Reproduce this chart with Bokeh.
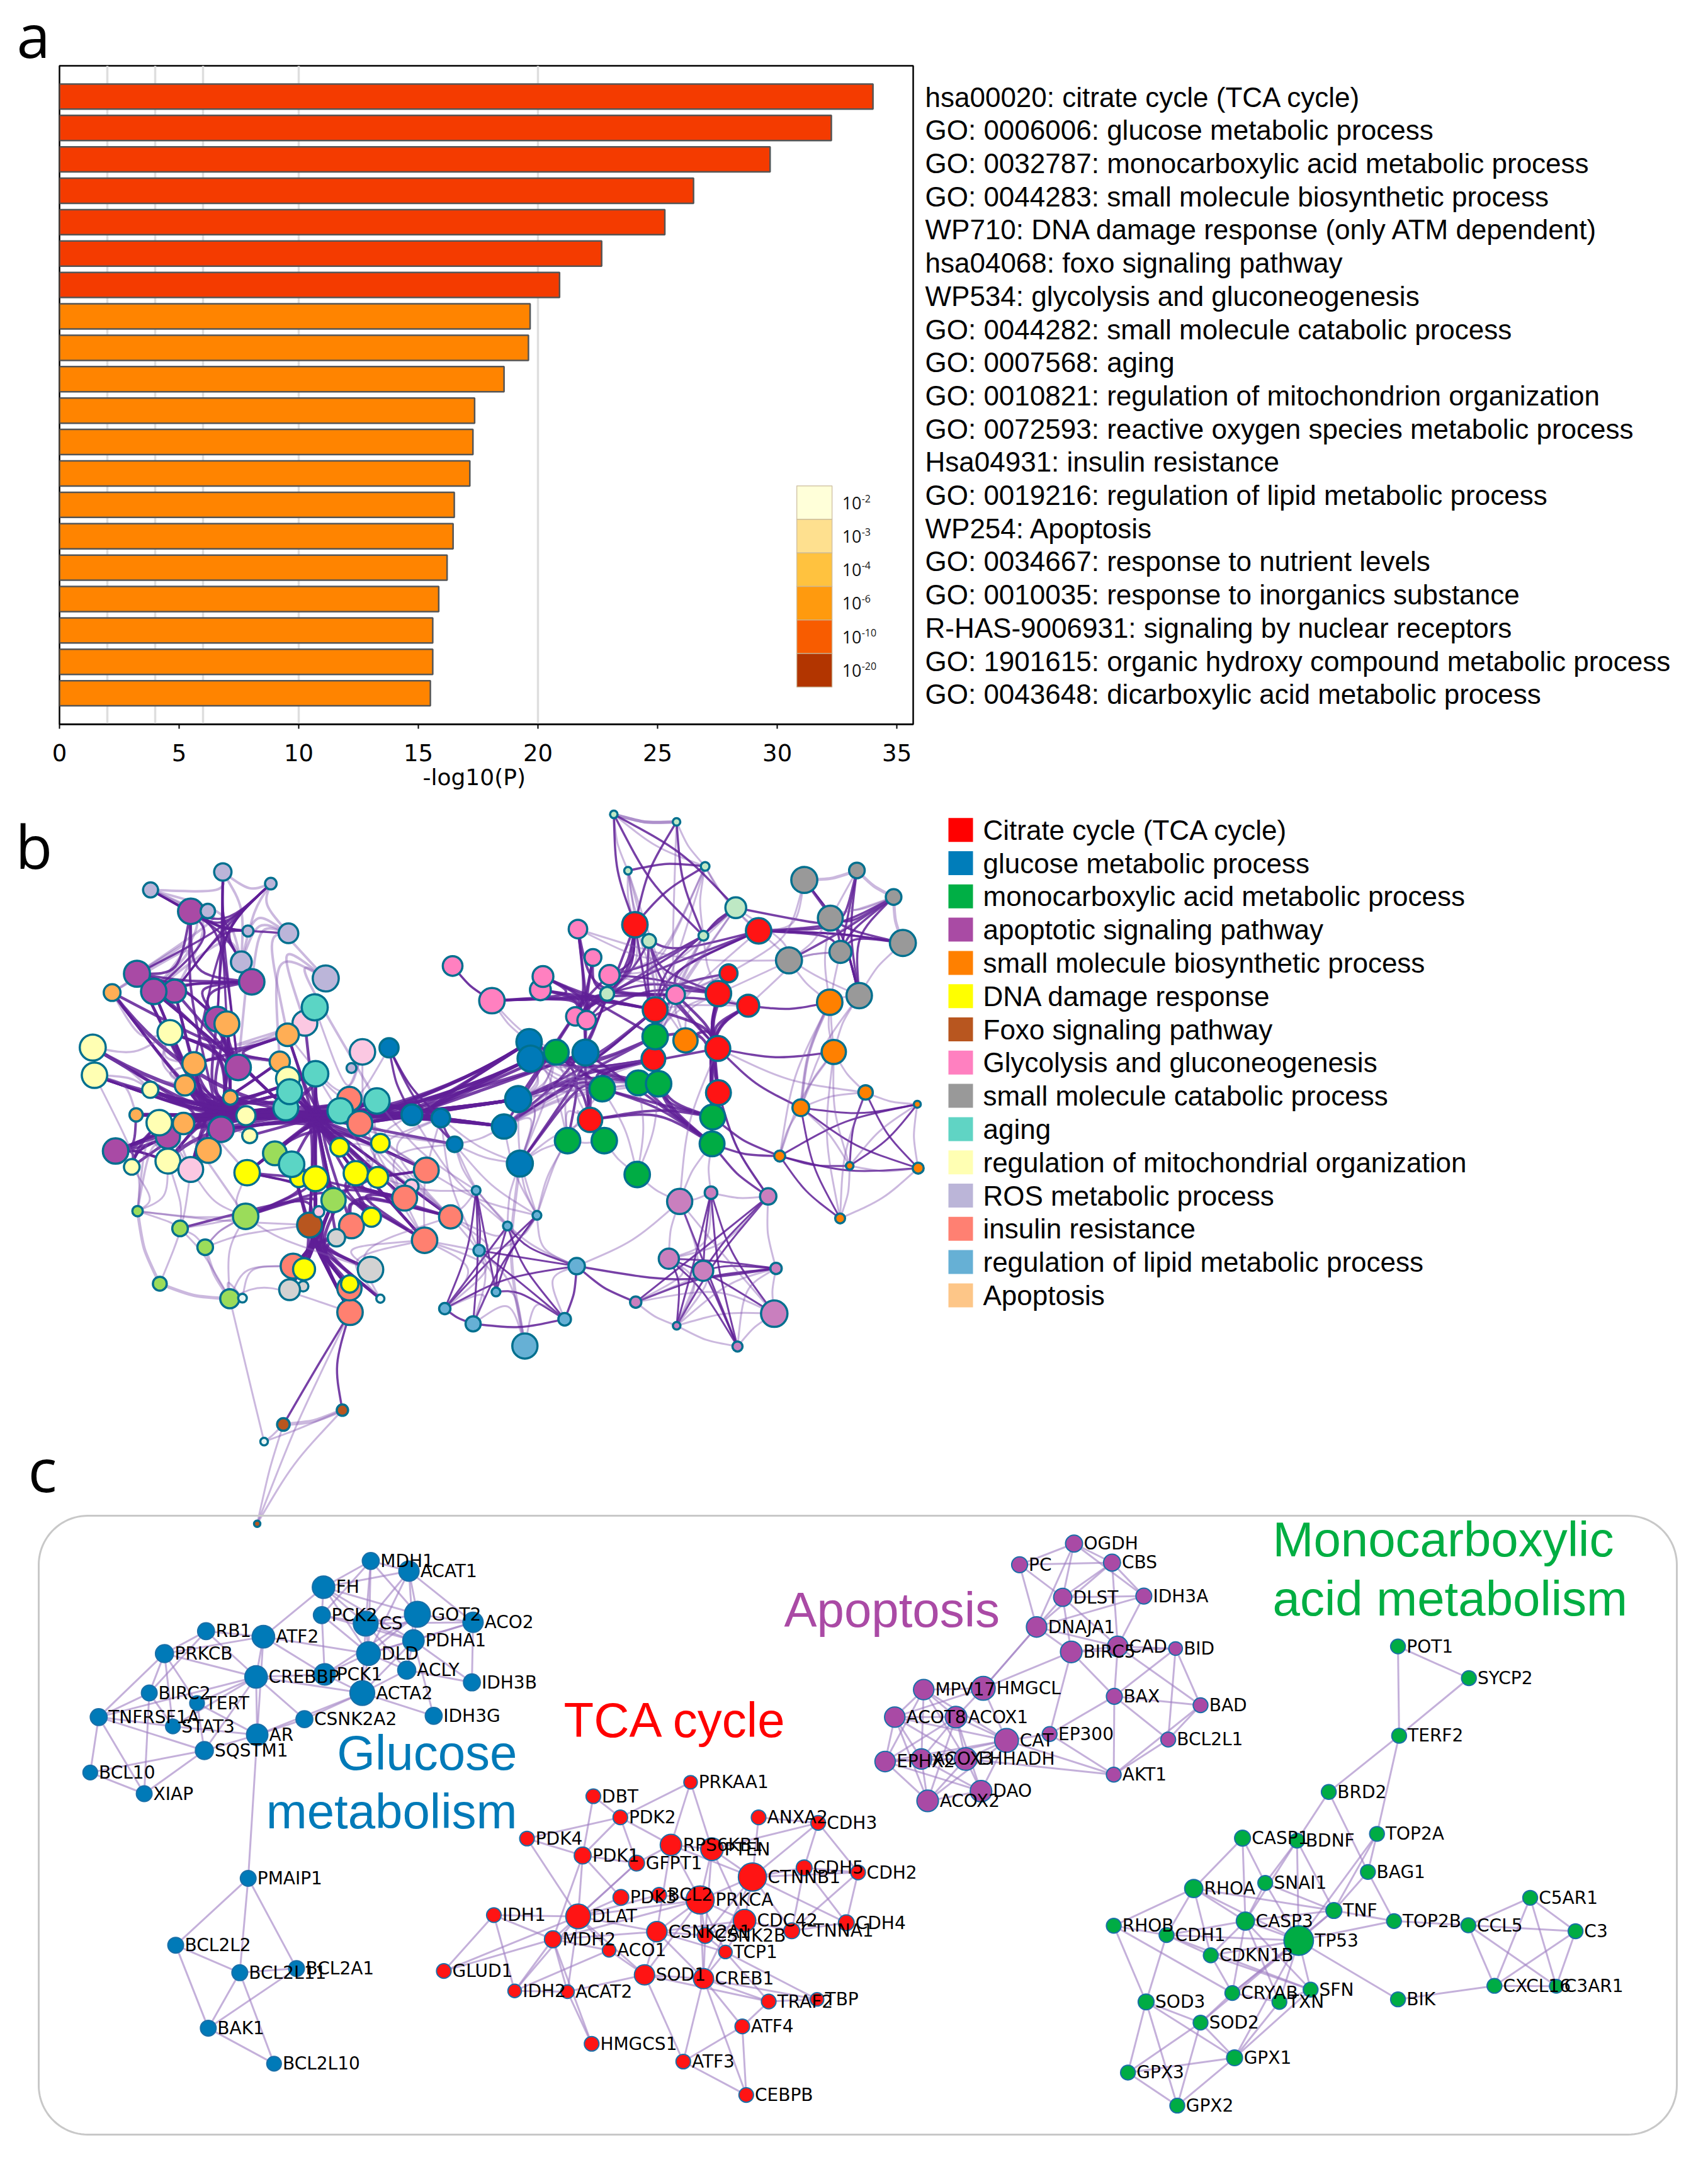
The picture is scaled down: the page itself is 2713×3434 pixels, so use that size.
from bokeh.plotting import figure
from bokeh.layouts import column, row
from bokeh.embed import file_html
from bokeh.resources import INLINE
from bokeh.core.properties import value
from bokeh.models import Range1d, FixedTicker, Title
import numpy as np

# ---------- panel a data ----------
bar_values = [34.0, 32.26, 29.7, 26.5, 25.3, 22.66, 20.9, 19.67, 19.6, 18.58,
              17.35, 17.28, 17.15, 16.5, 16.45, 16.2, 15.85, 15.6, 15.6, 15.5]
bar_colors = ["#F43B00"] * 7 + ["#FF8400"] * 13
x_ticks = [0, 5, 10, 15, 20, 25, 30, 35]
grid_ticks = [2, 4, 6, 10, 20]
term_labels = [
    "hsa00020: citrate cycle (TCA cycle)",
    "GO: 0006006: glucose metabolic process",
    "GO: 0032787: monocarboxylic acid metabolic process",
    "GO: 0044283: small molecule biosynthetic process",
    "WP710: DNA damage response (only ATM dependent)",
    "hsa04068: foxo signaling pathway",
    "WP534: glycolysis and gluconeogenesis",
    "GO: 0044282: small molecule catabolic process",
    "GO: 0007568: aging",
    "GO: 0010821: regulation of mitochondrion organization",
    "GO: 0072593: reactive oxygen species metabolic process",
    "Hsa04931: insulin resistance",
    "GO: 0019216: regulation of lipid metabolic process",
    "WP254: Apoptosis",
    "GO: 0034667: response to nutrient levels",
    "GO: 0010035: response to inorganics substance",
    "R-HAS-9006931: signaling by nuclear receptors",
    "GO: 1901615: organic hydroxy compound metabolic process",
    "GO: 0043648: dicarboxylic acid metabolic process",
]
scale_exps = ["-2", "-3", "-4", "-6", "-10", "-20"]
scale_colors = ["#FFFFD9", "#FEE08F", "#FFC23F", "#FF9A0E", "#F85C00", "#B23500"]

# ---------- panel b legend ----------
legend_names = ["Citrate cycle (TCA cycle)", "glucose metabolic process",
                "monocarboxylic acid metabolic process", "apoptotic signaling pathway",
                "small molecule biosynthetic process", "DNA damage response",
                "Foxo signaling pathway", "Glycolysis and gluconeogenesis",
                "small molecule catabolic process", "aging",
                "regulation of mitochondrial organization", "ROS metabolic process",
                "insulin resistance", "regulation of lipid metabolic process", "Apoptosis"]
legend_colors = ["#FF0000", "#007DBA", "#00AF45", "#A94BA4", "#FF8000", "#FFFF00", "#B8561F",
                 "#FF80C0", "#999999", "#60D4C4", "#FFFFB3", "#BBB5D8", "#FF8072", "#66B0D5", "#FDC688"]
node_palette = {"r": "#FF1414", "b": "#007AB8", "g": "#00AC44", "p": "#A94AA5", "o": "#FF8000",
                "y": "#FFFF00", "f": "#B8561F", "k": "#FF80C0", "a": "#999999", "t": "#5BD5C5",
                "l": "#FFFFB3", "v": "#BBB5D9", "s": "#FF8070", "u": "#66B0D5", "n": "#FFAE55",
                "m": "#9BDC5A", "q": "#FBC8E2", "h": "#D2D2D2", "w": "#BEE8C4", "x": "#C97FBE", "e": "#E8F4F4"}

# network nodes, left half: key, x, y, r as read in the left crop (scale 2.178, origin 100,1380)
nodes_left = [
 ("v1",302,72,26),("v2",552,10,30),("v3",718,50,20),("p1",441,146,44),("v4",500,145,25),("v5",639,214,19),
 ("v6",779,222,34),("v7",616,321,36),("v8",908,378,45),("p2",255,362,45),("p4",385,422,40),("p3",313,423,44),
 ("p5",652,390,44),("n1",169,427,29),("p6",533,519,43),("n2",566,535,43),("q1",836,533,43),("t1",870,478,45),
 ("n3",776,573,39),("l1",369,565,43),("l2",102,617,45),("l3",108,713,44),("q2",1035,632,44),("b1",1127,618,33),
 ("v9",997,688,17),("n4",452,673,40),("n5",421,748,35),("p7",605,686,44),("n6",749,666,35),("t2",873,708,44),
 ("l4",777,725,41),("t4",770,826,43),("t3",783,770,43),("l5",301,763,28),("n7",578,790,25),("s1",990,795,42),
 ("t5",958,836,44),("t6",1085,802,44),("s2",1026,880,43),("b2",1206,850,36),("b3",1306,861,32),("n8",252,850,23),
 ("p8",362,925,42),("l6",332,877,44),("n9",416,880,37),("p9",546,900,44),("l7",632,853,33),("l8",645,922,26),
 ("y1",956,962,32),("y2",1097,948,32),("b4",1354,952,27),("p10",181,975,44),("n10",502,973,43),("l9",362,1010,43),
 ("l10",237,1030,27),("q3",441,1039,43),("m1",732,983,41),("y4",815,1070,30),("t7",790,1021,44),("y3",636,1050,44),
 ("y5",873,1071,43),("y6",1012,1052,42),("y7",1088,1066,36),("s3",1256,1041,43),("q4",1205,1097,24),("s4",1181,1138,43),
 ("m2",935,1145,42),("m3",257,1183,18),("m4",631,1201,44),("f1",852,1231,43),("q5",884,1185,19),("s5",997,1234,43),
 ("y8",1066,1204,33),("s6",1340,1203,40),("m5",404,1243,27),("h1",945,1275,30),("s7",1250,1284,44),("m6",491,1308,27),
 ("s8",795,1373,43),("y9",833,1384,38),("h2",1063,1385,44),("h3",830,1443,18),("h4",783,1455,36),("s10",992,1533,44),
 ("s9",990,1450,42),("y10",991,1435,30),("m7",334,1434,24),("m8",576,1486,33),("h5",620,1484,15),("h6",1097,1486,14),
 ("k1",1347,335,34),("k2",1483,455,44),
]
# network nodes, right half (scale 2.178, origin 800,1270)
nodes_right = [
 ("w1",380,50,13),("w2",597,76,13),("w3",696,230,15),("w4",429,245,13),("w5",802,373,36),("r1",453,432,44),
 ("w6",502,488,24),("w7",690,470,17),("r2",881,453,44),("a1",1039,277,45),("a2",1221,244,27),("a3",1348,336,27),
 ("a4",1129,409,43),("a5",1380,495,45),("a6",986,555,45),("a7",1164,526,38),("a8",1229,677,44),("k3",256,447,32),
 ("k4",308,545,29),("k5",365,606,35),("k7",126,657,36),("k6",135,611,36),("w8",357,671,24),("k8",594,674,32),
 ("r3",777,600,31),("r4",742,670,44),("r5",845,712,38),("r6",523,726,43),("k9",247,749,32),("k10",286,762,32),
 ("o1",1127,700,44),("r8",517,896,41),("g1",523,819,44),("o2",628,832,42),("r7",740,860,43),("o3",1141,872,42),
 ("b5",87,837,44),("b6",92,895,45),("g2",181,873,43),("b7",282,874,45),("g3",465,979,43),("g4",535,982,44),
 ("g5",340,999,44),("g6",722,1097,43),("r9",742,1013,43),("b8",49,1035,45),("o4",1251,1012,25),("o5",1027,1065,29),
 ("r10",298,1107,42),("g7",720,1190,43),("b9",0,1130,42),("g8",220,1179,44),("g9",347,1179,44),("o6",1430,1053,12),
 ("o7",954,1232,19),("o8",1196,1266,13),("o9",1433,1274,19),("b10",55,1258,45),("g10",461,1296,44),("o10",1163,1448,17),
]
# network nodes, lower part (x scale 1.0453, y scale 1.3635, origin 0,1250); r already in px
nodes_low = [
 ("u1",790,873,7),("u2",842,950,7),("u3",795,1003,9),("u4",891,927,7),("u5",957,1037,13),("u6",823,1093,7),
 ("u7",738,1129,9),("u8",785,1162,12),("u9",937,1152,10),("u10",871,1210,20),("x1",1128,897,20),("x2",1180,878,10),
 ("x3",1275,886,13),("x4",1110,1021,16),("x5",1167,1047,16),("x6",1288,1042,9),("x7",1055,1115,9),("x8",1123,1166,6),
 ("x9",1285,1140,21),("x10",1224,1211,8),("f2",470,1380,10),("f3",568,1349,9),("e1",438,1417,6),("f4",426.5,1595,5),
]
node_fill_override = {"w6": "w", "w8": "w", "h6": "e", "h5": "e"}

# network edges: groups (hub key or "from>to" hub keys, pairs, width, dark?, bundling strength)
edge_groups = [
 ("HDl","v1-v2 v2-v3 v1-v7 v3-v6 v3-v7 v6-v8 v6-v7 v7-v2 v5-v6 v8-n6 v8-t6 v7-p3 v6-n3 v4-p2 v1-p3 n1-p2 n1-p3 p7-p5 v8-q1 v6-p5 v1-p4",4,False,0.6),
 ("HD","v1-p3 v1-v3 v2-p7 v2-n2 v2-p6 v3-p1 v3-n4 v3-p6 v3-v7 p1-v5 v2-v5 p1-p7 v7-v2 v1-v5 p2-v3 p4-v3 p4-v5 v6-p1 v1-v7",3.5,True,1),
 ("HP","p2-p1 p1-p5 p2-p5 p3-p5 p4-p5 p1-p9 p6-p5 p3-p6 p2-p6 p5-p7",4,True,0.8),
 ("HE","p3-p7 p4-p7 p2-p9 p6-p9 n2-n7 n2-p9 p6-n7 n3-n6 n3-n4 n6-p7 l1-n7 l1-p9 n4-n7 p7-n7 p3-t4 n1-p6 l1-n3 p6-t4 n2-t4 n2-n7 p7-n7",4.5,True,1),
 ("HA","n8-t4 l3-t4 l2-t4 l5-t5 n5-t4 n4-t3 p3-t4 p4-t3 p2-t5 n1-t4 p10-l7 l9-t4 q3-t4 l1-t4 n7-t2 p6-t2 n2-t2 n9-l7 l6-p9 n10-t4 p9-t4 p8-l7 l10-t4 p10-t4 n5-n6 n4-n6 l2-n9 l3-l7 l3-n7 l5-n7 n1-n7 p2-n7 p3-p9 p4-p9 p8-t4 l6-t4 n9-t4 l9-n7 q3-n7 p10-n7 n8-l7 l6-t3",4.5,True,1),
 ("HA>HB","l6-t5 n9-t4 n8-t5 l3-t5 l5-t4 l2-t2 n5-s2 p10-t4 l6-s2 n9-s1 p8-t5 l5-s2 n1-s1 l9-t6 q3-s2 p9-t5 n7-t3 l7-t3 l7-t4 l6-t4 n9-t5 n8-t4 n9-t3 l7-t5",6,True,1),
 ("HLL","p10-l10 p10-l6 p10-p8 p10-l9 l10-l6 p8-l10 l10-p8 l9-p10 n8-p10",4,True,0.9),
 ("HAl","l2-l1 l1-n1 l3-n8 l2-l5 l1-n4 l1-n5 n4-n5 l5-n5 p8-l9 q3-n10 l9-q3 l3-l5 l9-m3 q3-m3 n10-m4 l8-y3 q1-n3 q1-n6",3.5,False,0.5),
 ("HB","t4-s2 t3-t6 t5-b2 s1-y3 t2-y5 n6-y6 n3-y5 q1-m2 t4-y2 t2-s4 l7-b2 p9-b3 p9-s3 y3-s3 t7-t6 y5-t5 m2-t2 f1-t2 s5-t5 s4-t4 y1-t4 s7-t3 s6-t3 y8-n6 b4-t4 y6-t4 m1-t6 h1-t2 s3-t4 y7-t4 s2-n3 l8-t6 n7-b2 l7-s2 p9-b2 m1-b2 y3-s2 n6-s7 t3-s6 y6-l7 f1-n6",4.5,True,1),
 ("HBl","t2-y7 s1-b4 q2-s4 t6-s3 y2-s7 s2-s6 b2-s3 b3-s6 b4-s7 b3-y8 s3-y1 y6-s6 n3-q2 t1-q2 b1-t2 t6-s6 s2-b4 y2-s4",3,False,0.7),
 ("HB>HR","t5-b5 t6-b8 s2-b6 s2-b8 t5-b9 t6-b9 b2-b5 b2-b8 b3-b5 b3-b6 t6-b7",5,True,1),
 ("HR","t6-b5 t6-b8 s2-b9 t6-b6 b2-b8 b2-b9 b3-b8 b3-b9 b2-g2 s2-b7 t6-b3 l7-b8 t6-b2 s2-b3 b2-b6 b3-b5",5,True,1),
 ("HG","b5-g1 b6-r8 b7-r8 g2-g1 b8-r8 b8-g3 b9-g1 b6-r6 b7-r6 g5-r8 r10-r8 b7-g3 b7-g4 g5-r7 b8-r10 b9-g5 g2-g5 b9-r1 b6-w8 b8-r6 r10-g5 b10-g5 b10-b7 g8-g2 r10-b7 b5-g5",4,True,0.85),
 ("HGl","b5-g3 b6-g3 b8-g5 b8-g1 b9-g3 b9-r8 b10-g2 b10-b8 g8-b7 g9-b7 g8-r10 g9-r10 g2-g3 b6-g5 b5-b8 b6-b8 b8-b10 b10-b9 g5-g2 b9-r6 b8-g4 b9-g4 b5-r8 b6-g1 b9-g2 b8-g2",3,False,0.6),
 ("HF","k3-k10 k3-k9 k4-k10 k4-k9 k6-r6 k7-r6 k6-k10 k7-k9 k5-k9 w8-k10 k2-r6 k2-k8 k3-k8 k6-g1 k7-b7 k10-r6 b9-k9 b8-k9 b7-k10 k4-k8 k2-k6 k2-k9",4,True,0.9),
 ("HJ","r1-k5 r1-w8 r1-k10 w6-k9 r1-k9 r1-g1 w6-r4 w6-g1 w6-r7 w7-k5 w5-r6 r2-r6 r2-k8 r2-r1 r2-w8 r4-k5 r4-w8 r3-g1 k8-r7 r4-k10 r5-g1 w7-k9",3.5,True,0.6),
 ("HJl","w7-g1 w7-r6 w3-k5 w3-w8 w4-r6 w4-k8 w5-k5 w5-g1 r3-k8 r3-r6 k8-g1 r4-g1 r5-r6 w7-r8 w2-k8 r2-g1 o2-k8 o2-r4 o2-r6 k3-w7 k5-r3 w5-k8 w3-r6 w4-w8 r1-r6 w6-r6",3,False,0.5),
 ("HH","r4-r7 r4-r9 r3-r7 r5-g6 r5-r9 r5-r7 r7-g6 r4-g7 r6-r7 k8-r7 r7-g7 g1-r9 o2-r7",4.5,True,0.9),
 ("HM","r8-g7 g4-g6 g4-g7 r10-g6 r10-g7 g5-g6 g5-g7 r8-g6 g3-g7 b7-g7",4,True,0.8),
 ("HI","a3-a7 a3-a4 a3-a6 a2-a7 a2-a4 a5-a7 a5-a4 a1-a4 a1-a4 a1-a7 a2-a8 a3-a8 a4-a8 a7-a8 a7-a8 r2-a7 r2-a4 r2-a3 r2-a5 r2-a5 w5-a4",3.5,True,0.7),
 ("HIl","a6-a4 a4-a2 a6-a7 a6-a3 a2-a3 a1-a3 a7-a6 a1-r2 w5-a6 r5-a6 r4-a6 r3-a1",3,False,0.5),
 (None,"w1-w2 w1-w2 a1-a2 a2-a3 a3-a5 b10-u10 o1-o5",5,False,1),
 (None,"w2-w3 w3-w5 w4-r1 w3-w7 w4-w6 w7-r4 w5-r2 w5-w7 w3-r2 w1-w3 w1-w4 r2-a8 a5-a8 a7-o3 a8-o3 a8-o1 o1-o3 r4-r5 g10-g4 g10-g3 g10-g5 g8-g9 g9-g10 g6-g7 g10-x1 g7-x2 g7-x1 r7-x1 r9-x3 u5-x1 x1-x2 x1-x4 x2-x3 x3-x6 x6-x9 x9-x8 x9-x10 x8-x10 x7-x8 g8-b10 k1-k2 k3-a6 b1-b3 k2-g2 k2-b5 a4-o1 a8-o5 a6-o1",3,False,1),
 (None,"b4-u1 b4-u4 b9-u4 b8-u4 b10-u4 b10-u2 s6-u1 b3-u3 b2-u2 b4-u2 t6-u1 y7-u1 s3-u4 b3-s7 g5-u4 g8-u4 r10-b10 g8-b5 b4-b9 b4-b10 b3-b10",3,False,1),
 (None,"w1-w7 w2-r1 w1-r1 w3-w4 w2-w7 w5-w1 w3-r1 w5-w7 k1-k2 r7-o3 r5-o1 r7-o5 g7-o7 g6-o7 r9-x3 g7-x3 b1-b2 b1-b3 b1-b4 b3-b4",3.5,True,1),
 (None,"o7-o10 o5-o10 o7-o9 o5-o9 o6-o7 o4-o9 o4-o8 o5-o6 o7-o8 o8-o6",3,True,1),
 (None,"o8-o9 o10-o8 o10-o9 o6-o9 o3-o8 o1-o5 o3-o5 o3-o4 o3-o10 o1-o7 o4-o6 o4-o10 o4-o5 o5-o7 o3-o7 o8-o5 r7-o4 o6-o8",3,False,1),
 ("HK","u1-u7 u1-u8 u4-u7 u4-u8 u2-u7 u3-u5 u3-u9 u2-u9 u5-u7 u6-u9 u2-u5 u1-u3 u1-u6 u4-u6 u2-u6",3,True,0.3),
 ("HKl","u1-u5 u2-u4 u4-u3 u4-u5 u3-u10 u6-u10 u7-u8 u8-u10 u10-u9 u7-u3 u5-u9 s6-u2 s7-u3 s6-u3 s7-u7 s6-u8 s7-u6",3,False,0.5),
 ("HL","x2-x9 x2-x8 x3-x8 x3-x7 x3-x5 x4-x6 x5-x10 x4-x10 x5-x6 x7-x6 x1-x10 x2-x10 x9-x4 x8-x4 x2-x5",3,True,0.3),
 ("HLl","x1-x8 x1-x9 x4-x7 x5-x8 x5-x7 x3-x4 x6-x10 x6-x8 x7-x9 x4-x8 x2-x4",3,False,0.5),
 (None,"u5-x7 u9-u5 u8-u9 u7-u8 u5-x6",3.5,True,1),
 ("HC","f1-s8 f1-s9 f1-s10 f1-h2 f1-h1 f1-y9 f1-y10 m2-s9 y5-s8 y5-s10 y6-s9 s5-s8 f1-h4 y8-s10 m2-h2 t7-s10 t7-h4 y5-h6 f1-h6 f1-s8 f1-s9 f1-y9 m2-y9 m2-s8 f1-s10",5,True,1),
 ("HCm","y3-f1 m4-f1 m4-m2 m5-f1 y3-m4 y5-y8 y6-y8 m1-m2 t7-m4 y3-m1 s5-s7 y8-s7 m2-s4 y5-s4 y6-s4 y7-s3 y7-s4 y6-s3 s5-s6 s4-s7 y7-s6 y8-s6",4,True,0.8),
 ("HCl","m3-m5 m3-m4 m5-m6 m4-m6 m5-m8 m3-l9 m7-q3 m8-h5 m4-m8 m8-s8 h5-s8 m4-h2 l3-m3 l9-m5 q3-m4 m6-f1 m3-f1 m5-m4 m6-m4 s7-h2 s6-h6 m4-y3 h6-s7 l10-m3 m8-s10",3,False,0.3),
 (None,"m7-m8 m3-m7 m6-m8",5,False,1),
 ("HD1","s10-f2 s10-f3",3.5,True,0.35),
 (None,"f2-f3",6,False,1),
 ("HD2","e1-f2 e1-f3 f2-f4 f3-f4 m8-e1 s10-f4",3,False,0.2),
]
hub_points = {"HA":(325,1770),"HB":(500,1775),"HBl":(560,1800),"HC":(499,1977),"HCm":(530,1880),"HCl":(320,1950),
 "HD":(352,1476),"HDl":(400,1430),"HP":(290,1560),"HE":(364,1674),"HLL":(215,1825),"HR":(660,1770),"HAl":(220,1700),
 "HG":(928,1702),"HGl":(880,1730),"HF":(931,1582),"HJ":(1020,1545),"HJl":(1060,1590),"HH":(1126,1628),"HM":(1050,1755),
 "HI":(1342,1479),"HIl":(1290,1510),"HK":(775,1990),"HKl":(830,2000),"HL":(1110,1990),"HLl":(1160,2010),
 "HD1":(495,2180),"HD2":(420,2300)}

# ---------- panel c data: name, x, y, r in crop units ----------
c_left = [
 ("MDH1",659,147,15,"b"),("ACAT1",727,171,18,"b"),("FH",575,209,20,"b"),("PCK2",572,275,15,"b"),("CS",650,295,22,"b"),
 ("GOT2",742,273,23,"b"),("ACO2",841,292,18,"b"),("PDHA1",735,335,19,"b"),("RB1",366,313,15,"b"),("ATF2",468,326,20,"b"),
 ("PRKCB",292,366,16,"b"),("DLD",655,366,21,"b"),("ACLY",723,405,16,"b"),("PCK1",577,415,19,"b"),("CREBBP",455,421,20,"b"),
 ("IDH3B",839,434,15,"b"),("ACTA2",644,459,22,"b"),("BIRC2",265,459,14,"b"),("TERT",350,483,13,"b"),("TNFRSF1A",175,516,15,"b"),
 ("STAT3",307,538,13,"b"),("IDH3G",771,513,15,"b"),("CSNK2A2",541,521,15,"b"),("AR",457,558,19,"b"),("SQSTM1",363,595,16,"b"),
 ("BCL10",160,647,13,"b"),("XIAP",256,697,14,"b"),("PMAIP1",441,897,14,"b"),("BCL2L2",312,1055,14,"b"),("BCL2L11",426,1120,14,"b"),
 ("BCL2A1",527,1110,14,"b"),("BAK1",370,1251,14,"b"),("BCL2L10",487,1335,13,"b"),
 ("PRKAA1",1228,670,12,"r"),("DBT",1055,703,13,"r"),("PDK2",1103,753,13,"r"),("ANXA2",1349,753,13,"r"),("CDH3",1455,766,13,"r"),
 ("PDK4",937,803,13,"r"),("RPS6KB1",1193,818,19,"r"),("PTEN",1266,828,20,"r"),("PDK1",1036,843,15,"r"),("GFPT1",1132,861,14,"r"),
 ("CTNNB1",1338,894,25,"r"),("CDH5",1430,872,14,"r"),("CDH2",1526,883,13,"r"),("PDK3",1104,942,14,"r"),("BCL2",1172,936,13,"r"),
 ("PRKCA",1245,948,25,"r"),("IDH1",878,984,13,"r"),("DLAT",1028,987,22,"r"),("CDC42",1324,997,20,"r"),("CDH4",1505,1002,14,"r"),
 ("CTNNA1",1408,1021,14,"r"),("CSNK2A1",1168,1023,18,"r"),("CSNK2B",1254,1032,14,"r"),("MDH2",983,1041,15,"r"),("ACO1",1083,1067,12,"r"),
 ("TCP1",1290,1071,12,"r"),("GLUD1",789,1116,13,"r"),("SOD1",1146,1125,18,"r"),("CREB1",1251,1134,18,"r"),("IDH2",915,1163,12,"r"),
 ("ACAT2",1009,1165,12,"r"),("TRAF2",1367,1188,13,"r"),("TBP",1453,1183,12,"r"),("ATF4",1320,1247,13,"r"),("HMGCS1",1052,1288,13,"r"),
 ("ATF3",1215,1330,13,"r"),("CEBPB",1327,1409,13,"r"),
]
c_right = [
 ("OGDH",450,106,15,"p"),("PC",354,156,14,"p"),("CBS",517,151,15,"p"),("DLST",430,233,16,"p"),("IDH3A",573,230,14,"p"),
 ("DNAJA1",384,303,18,"p"),("CAD",527,349,18,"p"),("BIRC5",445,362,19,"p"),("BID",629,354,12,"p"),("MPV17",185,451,18,"p"),
 ("HMGCL",290,448,21,"p"),("BAX",521,467,14,"p"),("BAD",673,488,13,"p"),("ACOT8",134,516,18,"p"),("ACOX1",242,516,19,"p"),
 ("CAT",331,571,21,"p"),("EP300",407,556,13,"p"),("BCL2L1",616,569,13,"p"),("EPHX2",117,621,18,"p"),("ACOX3",181,615,18,"p"),
 ("EHHADH",259,615,20,"p"),("AKT1",520,652,13,"p"),("DAO",286,691,19,"p"),("ACOX2",192,714,19,"p"),
 ("POT1",1021,349,13,"g"),("SYCP2",1146,424,13,"g"),("TERF2",1023,560,13,"g"),("BRD2",899,693,13,"g"),("CASP1",747,802,14,"g"),
 ("BDNF",843,808,13,"g"),("TOP2A",984,792,13,"g"),("BAG1",968,882,13,"g"),("RHOA",661,921,16,"g"),("SNAI1",787,908,13,"g"),
 ("TNF",908,973,14,"g"),("C5AR1",1254,943,13,"g"),("CASP3",752,998,16,"g"),("TOP2B",1014,998,13,"g"),("RHOB",520,1009,13,"g"),
 ("CDH1",613,1031,13,"g"),("CCL5",1145,1008,13,"g"),("C3",1334,1022,13,"g"),("TP53",846,1044,26,"g"),("CDKN1B",691,1079,13,"g"),
 ("CRYAB",729,1168,13,"g"),("SFN",867,1160,13,"g"),("TXN",812,1189,13,"g"),("CXCL16",1191,1151,13,"g"),("C3AR1",1300,1152,12,"g"),
 ("BIK",1021,1183,13,"g"),("SOD3",577,1189,14,"g"),("SOD2",673,1238,13,"g"),("GPX1",733,1321,14,"g"),("GPX3",545,1356,13,"g"),
 ("GPX2",632,1434,13,"g"),
]
c_edges = """MDH1-ACAT1 MDH1-FH MDH1-PCK2 MDH1-CS MDH1-GOT2 MDH1-DLD ACAT1-FH ACAT1-CS ACAT1-GOT2 ACAT1-PDHA1 ACAT1-ACO2 ACAT1-DLD FH-PCK2 FH-CS FH-GOT2 FH-DLD FH-ATF2 FH-PDHA1 PCK2-CS PCK2-DLD PCK2-PDHA1 PCK2-PCK1 CS-GOT2 CS-PDHA1 CS-DLD CS-ACO2 CS-ACLY CS-ACTA2 GOT2-ACO2 GOT2-PDHA1 GOT2-DLD GOT2-PCK1 ACO2-PDHA1 ACO2-IDH3B ACO2-DLD PDHA1-DLD PDHA1-ACLY PDHA1-ACTA2 PDHA1-IDH3G PDHA1-IDH3B DLD-ACLY DLD-PCK1 DLD-ACTA2 DLD-ATF2 ACLY-ACTA2 ACLY-IDH3B ACTA2-CSNK2A2 ACTA2-IDH3G ACTA2-PCK1 ACTA2-CREBBP ACTA2-AR ATF2-RB1 ATF2-CREBBP ATF2-PRKCB ATF2-AR ATF2-PCK1 RB1-PRKCB RB1-CREBBP RB1-BIRC2 PRKCB-CREBBP PRKCB-TNFRSF1A PRKCB-BIRC2 PRKCB-TERT PRKCB-STAT3 CREBBP-PCK1 CREBBP-CSNK2A2 CREBBP-TERT CREBBP-STAT3 CREBBP-AR CREBBP-SQSTM1 CREBBP-TNFRSF1A BIRC2-TNFRSF1A BIRC2-XIAP BIRC2-STAT3 TNFRSF1A-SQSTM1 TNFRSF1A-STAT3 TNFRSF1A-BCL10 TNFRSF1A-XIAP STAT3-AR TERT-AR TERT-SQSTM1 AR-SQSTM1 AR-CSNK2A2 SQSTM1-BCL10 SQSTM1-XIAP BCL10-XIAP AR-PMAIP1 PMAIP1-BCL2L2 PMAIP1-BCL2L11 PMAIP1-BCL2A1 BCL2L2-BCL2L11 BCL2L2-BAK1 BCL2L11-BAK1 BCL2L11-BCL2L10 BCL2A1-BAK1 BAK1-BCL2L10 BCL2L11-BCL2A1
PRKAA1-PDK2 PRKAA1-RPS6KB1 PRKAA1-PTEN DBT-PDK1 DBT-PDK2 PDK2-PDK4 PDK2-PDK1 PDK2-GFPT1 PDK2-RPS6KB1 ANXA2-CTNNB1 ANXA2-CDH3 CDH3-CTNNB1 CDH3-CDH5 CDH3-CDH2 CDH3-PTEN PDK4-PDK1 PDK4-DLAT PDK1-DLAT PDK1-GFPT1 PDK1-PDK3 PDK1-MDH2 GFPT1-RPS6KB1 GFPT1-DLAT GFPT1-DLAT RPS6KB1-PTEN RPS6KB1-PRKCA RPS6KB1-CTNNB1 RPS6KB1-CSNK2A1 PTEN-PRKCA PTEN-CTNNB1 PTEN-CSNK2B PTEN-CDC42 CTNNB1-PRKCA CTNNB1-CDH5 CTNNB1-CDH2 CTNNB1-CDC42 CTNNB1-CTNNA1 CTNNB1-CDH4 CTNNB1-CSNK2B CTNNB1-CREB1 CDH5-CDH2 CDH5-CDH4 CDH5-CTNNA1 CDH2-CDH4 CDH2-CTNNA1 CDH4-CTNNA1 PDK3-DLAT BCL2-PRKCA BCL2-DLAT PRKCA-DLAT PRKCA-CDC42 PRKCA-CSNK2A1 PRKCA-CSNK2B PRKCA-SOD1 PRKCA-CREB1 PRKCA-TCP1 PRKCA-MDH2 IDH1-DLAT IDH1-MDH2 IDH1-GLUD1 IDH1-IDH2 DLAT-MDH2 DLAT-ACO1 DLAT-CSNK2A1 DLAT-SOD1 DLAT-ACAT2 MDH2-ACO1 MDH2-IDH2 MDH2-GLUD1 MDH2-ACAT2 MDH2-CSNK2A1 MDH2-HMGCS1 ACO1-IDH2 ACO1-SOD1 CSNK2A1-CSNK2B CSNK2A1-CDC42 CSNK2A1-SOD1 CSNK2A1-CREB1 CSNK2A1-TCP1 CSNK2B-CDC42 CSNK2B-TCP1 CSNK2B-CREB1 CDC42-TCP1 CDC42-CTNNA1 SOD1-CREB1 SOD1-ACAT2 SOD1-ATF3 SOD1-TRAF2 CREB1-TCP1 CREB1-TRAF2 CREB1-TBP CREB1-ATF4 CREB1-ATF3 CREB1-CEBPB TCP1-TRAF2 TCP1-TBP TRAF2-TBP TRAF2-ATF4 ATF4-ATF3 ATF4-CEBPB ATF3-CEBPB ACAT2-HMGCS1 IDH2-ACAT2 IDH2-DLAT GLUD1-DLAT
OGDH-PC OGDH-CBS OGDH-DLST OGDH-DNAJA1 OGDH-IDH3A PC-CBS PC-DLST PC-DNAJA1 CBS-DLST CBS-IDH3A CBS-DNAJA1 CBS-CAD DLST-IDH3A DLST-DNAJA1 DLST-CAD DLST-BIRC5 IDH3A-DNAJA1 IDH3A-CAD DNAJA1-BIRC5 DNAJA1-CAD DNAJA1-HMGCL DNAJA1-HMGCL BIRC5-CAD BIRC5-BID BIRC5-BAX BIRC5-HMGCL BIRC5-EP300 CAD-BID CAD-BAX CAD-BAD BID-BAX BID-BAD BID-BCL2L1 BAX-BAD BAX-BCL2L1 BAX-AKT1 BAX-EP300 BAD-BCL2L1 BAD-AKT1 BCL2L1-AKT1 EP300-AKT1 EP300-CAT HMGCL-MPV17 HMGCL-ACOX1 HMGCL-CAT HMGCL-ACOT8 MPV17-ACOT8 MPV17-ACOX1 MPV17-CAT MPV17-EPHX2 MPV17-ACOX3 MPV17-EHHADH ACOT8-ACOX1 ACOT8-EPHX2 ACOT8-ACOX3 ACOT8-EHHADH ACOT8-CAT ACOT8-ACOX2 ACOX1-CAT ACOX1-ACOX3 ACOX1-EHHADH ACOX1-EPHX2 ACOX1-ACOX2 ACOX1-DAO CAT-EHHADH CAT-ACOX3 CAT-DAO CAT-ACOX2 CAT-EPHX2 CAT-AKT1 EPHX2-ACOX3 EPHX2-EHHADH EPHX2-ACOX2 EPHX2-DAO ACOX3-EHHADH ACOX3-ACOX2 ACOX3-DAO EHHADH-DAO EHHADH-ACOX2 EHHADH-AKT1 DAO-ACOX2
POT1-SYCP2 POT1-TERF2 SYCP2-TERF2 TERF2-BRD2 TERF2-TOP2A BRD2-BDNF BRD2-BAG1 CASP1-RHOA CASP1-SNAI1 CASP1-CASP3 BDNF-SNAI1 BDNF-CASP3 BDNF-TNF BDNF-TP53 TOP2A-BAG1 TOP2A-TNF TOP2A-TP53 BAG1-TOP2B BAG1-TNF SNAI1-TP53 SNAI1-CASP3 SNAI1-TNF RHOA-RHOB RHOA-CDH1 RHOA-CASP3 RHOA-TNF RHOA-TP53 RHOA-CDKN1B RHOB-CDH1 RHOB-SOD3 RHOB-CRYAB CDH1-CASP3 CDH1-TP53 CDH1-CDKN1B CDH1-SFN CDH1-SOD3 CASP3-TNF CASP3-TP53 CASP3-CDKN1B CASP3-CRYAB CASP3-SFN CASP3-TXN TNF-TP53 TNF-TOP2B TNF-CRYAB TP53-TOP2B TP53-CDKN1B TP53-CRYAB TP53-SFN TP53-TXN TP53-BIK TP53-GPX1 TP53-SOD2 CDKN1B-SFN CDKN1B-CRYAB SFN-TXN CRYAB-SOD2 CRYAB-TXN TXN-GPX1 SFN-GPX1 SOD3-SOD2 SOD3-GPX3 SOD3-GPX1 SOD3-GPX2 SOD2-GPX3 SOD2-GPX1 SOD2-GPX2 GPX1-GPX3 GPX1-GPX2 GPX3-GPX2 TOP2B-CCL5 CCL5-C5AR1 CCL5-C3 CCL5-CXCL16 CCL5-C3AR1 C5AR1-C3 C5AR1-CXCL16 C5AR1-C3AR1 C3-CXCL16 C3-C3AR1 CXCL16-C3AR1 BIK-CXCL16""".split()
cluster_titles = [("Glucose", "#007AB8"), ("metabolism", "#007AB8"), ("TCA cycle", "#FF0000"),
                  ("Apoptosis", "#AA4AA5"), ("Monocarboxylic", "#00AE42"), ("acid metabolism", "#00AE42")]

# ---------- page geometry ----------
PAGE_R = 2705
STRIP, SPLIT, PAGE_B = 103, 1265, 3426
FRAME_L, FRAME_R, FRAME_T, FRAME_B = 94, 1450, 104, 1150
ARIAL = value("Liberation Sans")

# strip above panel a, holding the panel letter
fs = figure(width=PAGE_R, height=STRIP, x_range=Range1d(0, PAGE_R), y_range=Range1d(STRIP, 0),
            output_backend="svg", toolbar_location=None, min_border=0, outline_line_color=None)
fs.axis.visible = False
fs.grid.visible = False
fs.text(x=[26], y=[90 - 36], text=["a"], text_font=value("Open Sans"), text_font_size=value("96px"),
        text_baseline="alphabetic", text_color="black")

# ---------- panel a ----------
fa = figure(width=FRAME_R + 2, height=SPLIT - STRIP, x_range=Range1d(0, 35.68), y_range=Range1d(19.99, -0.98),
            output_backend="svg", toolbar_location=None, min_border_left=FRAME_L, min_border_right=2,
            min_border_top=FRAME_T - STRIP, min_border_bottom=SPLIT - FRAME_B)
fa.yaxis.visible = False
fa.ygrid.visible = False
fa.xgrid.ticker = FixedTicker(ticks=grid_ticks)
fa.xgrid.grid_line_color = "#DEDEDE"
fa.xgrid.grid_line_width = 3.5
fa.outline_line_color = "black"
fa.outline_line_width = 2.5
fa.outline_line_alpha = 1
fa.xaxis.ticker = FixedTicker(ticks=x_ticks)
fa.xaxis.major_label_text_font = "DejaVu Sans"
fa.xaxis.major_label_text_font_size = "37px"
fa.xaxis.major_label_text_color = "black"
fa.xaxis.major_label_standoff = 24
fa.xaxis.major_tick_out = 7
fa.xaxis.major_tick_in = 0
fa.xaxis.major_tick_line_width = 2
fa.xaxis.major_tick_line_color = "black"
fa.xaxis.axis_line_color = "black"
fa.xaxis.minor_tick_line_color = None
fa.xaxis.axis_line_width = 2.5
fa.hbar(y=list(range(len(bar_values))), right=bar_values, left=0, height=0.8,
        fill_color=bar_colors, line_color="#555555", line_width=2.5)
fa.add_layout(Title(text="-log10(P)", align="left", offset=577, text_font="DejaVu Sans", text_font_size="36px",
                    text_font_style="normal", text_color="black", standoff=0), "below")

def ax(px):
    return (px - FRAME_L) / 38.0
def ay(py):
    return (py - 152.5) / 49.9

for i, (c, e) in enumerate(zip(scale_colors, scale_exps)):
    top = 771 + i * 53.3
    fa.quad(left=ax(1265), right=ax(1321), top=ay(top), bottom=ay(top + 53.3), fill_color=c,
            line_color="#C8B89A", line_width=1.5, line_alpha=0.8)
    yc = top + 27
    fa.text(x=[ax(1337)], y=[ay(yc)], text=["10"], text_font=value("Open Sans"), text_font_size=value("27px"),
            text_baseline="middle", text_align="left", text_color="#111111")
    fa.text(x=[ax(1368)], y=[ay(yc - 7)], text=[e], text_font=value("Open Sans"), text_font_size=value("16px"),
            text_baseline="middle", text_align="left", text_color="#111111")

# term labels beside panel a
fl = figure(width=PAGE_R - FRAME_R - 2, height=SPLIT - STRIP, x_range=Range1d(FRAME_R + 2, PAGE_R), y_range=Range1d(FRAME_B, FRAME_T),
            output_backend="svg", toolbar_location=None, min_border_left=0, min_border_right=0,
            min_border_top=FRAME_T - STRIP, min_border_bottom=SPLIT - FRAME_B, outline_line_color=None)
fl.axis.visible = False
fl.grid.visible = False
fl.text(x=[1469] * len(term_labels), y=[153.6 + 52.7 * i for i in range(len(term_labels))], text=term_labels,
        text_font=ARIAL, text_font_size=value("44px"), text_baseline="middle", text_color="black")

# ---------- panels b and c ----------
fb = figure(width=PAGE_R, height=PAGE_B - SPLIT, x_range=Range1d(0, PAGE_R), y_range=Range1d(PAGE_B, SPLIT),
            output_backend="svg", toolbar_location=None, min_border=0, outline_line_color=None)
fb.axis.visible = False
fb.grid.visible = False

pos = {}
for k, x, y, r in nodes_left:
    pos[k] = (100 + x / 2.178, 1380 + y / 2.178, r / 2.178)
for k, x, y, r in nodes_right:
    pos[k] = (800 + x / 2.178, 1270 + y / 2.178, r / 2.178)
for k, x, y, r in nodes_low:
    pos[k] = (x / 1.0453, 1250 + y / 1.3635, r)

for hub, pairs, w, dark, strength in edge_groups:
    x0, y0, x1, y1, c0x, c0y, c1x, c1y = [], [], [], [], [], [], [], []
    for pair in pairs.split():
        a, b = pair.split("-")
        ax0, ay0, _ = pos[a]
        bx0, by0, _ = pos[b]
        mx, my = (ax0 + bx0) / 2, (ay0 + by0) / 2
        if hub and ">" in hub:
            h0, h1 = hub.split(">")
            p0, p1 = hub_points[h0], hub_points[h1]
        elif hub:
            hx, hy = hub_points[hub]
            p0 = p1 = (mx + strength * (hx - mx), my + strength * (hy - my))
        else:
            p0 = p1 = (mx - 0.08 * (by0 - ay0), my + 0.08 * (bx0 - ax0))
        x0.append(ax0); y0.append(ay0); x1.append(bx0); y1.append(by0)
        c0x.append(p0[0]); c0y.append(p0[1]); c1x.append(p1[0]); c1y.append(p1[1])
    fb.bezier(x0=x0, y0=y0, x1=x1, y1=y1, cx0=c0x, cy0=c0y, cx1=c1x, cy1=c1y,
              line_color="#5F1E96" if dark else "#8456B0", line_alpha=0.85 if dark else 0.42, line_width=w)

order = [n[0] for n in nodes_left] + [n[0] for n in nodes_right] + [n[0] for n in nodes_low]
fills = [node_palette[node_fill_override.get(k, k[0])] for k in order]
fb.circle(x=[pos[k][0] for k in order], y=[pos[k][1] for k in order], radius=[pos[k][2] for k in order],
          fill_color=fills, line_color="#00708F", line_width=3.5)

# legend of panel b
for i, (name, c) in enumerate(zip(legend_names, legend_colors)):
    yc = 1317.7 + 52.8 * i
    fb.rect(x=[1525.5], y=[yc], width=39, height=38, fill_color=c, line_color=None)
    fb.text(x=[1561], y=[yc], text=[name], text_font=ARIAL, text_font_size=value("44px"),
            text_baseline="middle", text_color="black")

fb.text(x=[24], y=[1378 - 36], text=["b"], text_font=value("Open Sans"), text_font_size=value("96px"), text_baseline="alphabetic", text_color="black")
fb.text(x=[44], y=[2368 - 36], text=["c"], text_font=value("Open Sans"), text_font_size=value("96px"), text_baseline="alphabetic", text_color="black")

# rounded frame of panel c
L, T, R, B, rad = 61, 2407, 2663, 3390, 78
ang = np.linspace(0, np.pi / 2, 24)
fx = np.concatenate([L + rad - rad * np.cos(ang), R - rad + rad * np.sin(ang),
                     R - rad + rad * np.cos(ang), L + rad - rad * np.sin(ang), [L]])
fy = np.concatenate([T + rad - rad * np.sin(ang), T + rad - rad * np.cos(ang),
                     B - rad + rad * np.sin(ang), B - rad + rad * np.cos(ang), [T + rad]])
fb.line(fx, fy, line_color="#C8C8C8", line_width=3)

# network of panel c
cpos, crad, cfill = {}, {}, {}
for n, x, y, r, c in c_left:
    cpos[n] = (x / 1.12, 2380 + y / 1.4877); crad[n] = r / 1.12; cfill[n] = c
for n, x, y, r, c in c_right:
    cpos[n] = (1300 + x / 1.1097, 2380 + y / 1.4877); crad[n] = r / 1.1097; cfill[n] = c
exs, eys = [], []
for pair in c_edges:
    a, b = pair.split("-")
    exs.append([cpos[a][0], cpos[b][0]])
    eys.append([cpos[a][1], cpos[b][1]])
fb.multi_line(exs, eys, line_color="#9F7FC4", line_alpha=0.62, line_width=3)
names = list(cpos)
fb.circle(x=[cpos[n][0] for n in names], y=[cpos[n][1] for n in names], radius=[crad[n] for n in names],
          fill_color=[node_palette[cfill[n]] for n in names], line_color="#1A6FA8", line_width=2)
fb.text(x=[cpos[n][0] + crad[n] + 2 for n in names], y=[cpos[n][1] for n in names], text=names,
        text_font=value("DejaVu Sans"), text_font_size=value("28px"), text_baseline="middle", text_color="black")

title_x = [821, 821, 895, 1245, 2021, 2021]
title_y = [2783, 2876, 2731, 2556, 2444, 2538]
title_align = ["right", "right", "left", "left", "left", "left"]
fb.text(x=title_x, y=title_y, text=[t[0] for t in cluster_titles], text_color=[t[1] for t in cluster_titles],
        text_align=title_align, text_baseline="middle", text_font=ARIAL, text_font_size=value("78px"))

page = column(fs, row(fa, fl, spacing=0), fb, spacing=0)
open("out.html", "w").write(file_html(page, INLINE))
